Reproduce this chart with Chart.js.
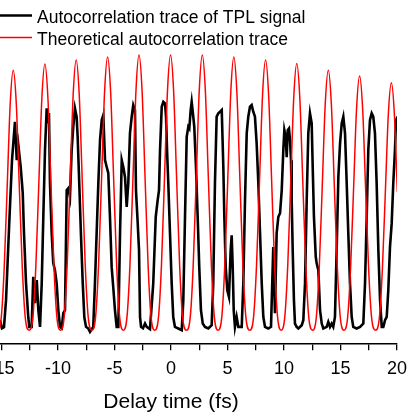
<!DOCTYPE html>
<html><head><meta charset="utf-8">
<script src="https://cdn.jsdelivr.net/npm/chart.js@4.4.1/dist/chart.umd.min.js"></script>
<style>
html,body{margin:0;padding:0;background:#fff;overflow:hidden;width:410px;height:415px;position:relative;}
#wrap{position:absolute;left:-85px;top:0;width:512px;height:415px;}
</style></head><body>
<div id="wrap"><canvas id="c" width="512" height="415"></canvas></div>
<script>
const seriesNames = ['Autocorrelation trace of TPL signal', 'Theoretical autocorrelation trace'];
const xTitle = 'Delay time (fs)';

// Measured TPL autocorrelation trace (delay in fs, normalized intensity)
const blackX = [-15.13,-14.96,-14.78,-14.60,-14.34,-14.07,-13.81,-13.65,-13.51,-13.30,
-13.12,-13.01,-12.83,-12.63,-12.54,-12.33,-12.19,-12.04,-11.88,-11.74,
-11.59,-11.44,-11.30,-11.15,-11.00,-10.91,-10.80,-10.71,-10.56,-10.42,
-10.27,-10.12,-9.97,-9.82,-9.67,-9.53,-9.38,-9.23,-9.09,-8.94,
-8.79,-8.65,-8.50,-8.35,-8.26,-8.12,-7.96,-7.81,-7.67,-7.52,
-7.32,-7.17,-6.88,-6.73,-6.58,-6.43,-6.28,-6.13,-5.99,-5.84,
-5.69,-5.55,-5.40,-5.25,-5.11,-4.96,-4.81,-4.66,-4.51,-4.36,
-4.22,-4.07,-3.92,-3.78,-3.63,-3.48,-3.34,-3.19,-3.10,-2.96,
-2.83,-2.74,-2.65,-2.48,-2.30,-2.15,-1.86,-1.57,-1.35,-1.18,
-1.06,-0.97,-0.82,-0.68,-0.53,-0.44,-0.35,-0.24,-0.09,0.06,
0.20,0.35,0.65,0.95,1.09,1.24,1.39,1.53,1.62,1.74,
1.83,1.97,2.06,2.21,2.36,2.50,2.65,2.81,3.01,3.30,
3.60,3.74,3.89,4.04,4.19,4.34,4.49,4.63,4.72,4.84,
4.98,5.13,5.28,5.37,5.46,5.55,5.66,5.81,5.96,6.26,
6.40,6.55,6.70,6.84,6.99,7.14,7.28,7.43,7.58,7.73,
7.88,8.03,8.17,8.32,8.61,8.85,9.05,9.20,9.35,9.50,
9.65,9.80,9.94,10.03,10.15,10.24,10.33,10.44,10.53,10.62,
10.68,10.77,10.88,10.97,11.12,11.27,11.57,11.71,11.86,12.01,
12.15,12.30,12.45,12.54,12.65,12.81,12.89,13.04,13.19,13.34,
13.48,13.78,13.92,14.07,14.22,14.36,14.51,14.66,14.81,14.96,
15.11,15.25,15.40,15.55,15.69,15.84,15.99,16.13,16.43,16.73,
17.02,17.17,17.32,17.46,17.61,17.76,17.90,18.05,18.20,18.35,
18.50,18.65,18.79,18.94,19.09,19.23,19.38,19.53,19.67,19.82,
19.91,20.06];
const blackY = [0.036,0.007,0.011,0.109,0.364,0.618,0.757,0.618,0.673,0.593,
0.498,0.353,0.171,0.047,0.012,0.012,0.194,0.098,0.182,0.073,
0.012,0.171,0.411,0.655,0.806,0.753,0.789,0.535,0.353,0.244,
0.218,0.171,0.073,0.012,0.007,0.062,0.073,0.509,0.516,0.484,
0.655,0.738,0.806,0.775,0.702,0.535,0.338,0.171,0.047,0.012,
0.006,-0.006,0.012,0.171,0.353,0.535,0.691,0.764,0.782,0.618,
0.593,0.571,0.411,0.229,0.156,0.073,0.012,0.012,0.353,0.618,
0.593,0.556,0.448,0.535,0.716,0.775,0.818,0.800,0.509,0.400,
0.291,0.047,0.012,0.007,0.024,0.012,0.004,0.171,0.412,0.473,
0.509,0.655,0.812,0.830,0.824,0.776,0.655,0.535,0.353,0.171,
0.047,0.012,0.006,0.000,0.109,0.412,0.703,0.739,0.733,0.800,
0.830,0.776,0.739,0.594,0.412,0.230,0.073,0.024,0.012,0.006,
0.018,0.171,0.535,0.776,0.788,0.794,0.800,0.594,0.412,0.230,
0.145,0.121,0.291,0.345,0.230,0.073,0.012,0.048,0.012,0.012,
0.171,0.473,0.715,0.776,0.812,0.818,0.794,0.776,0.679,0.533,
0.352,0.170,0.048,0.012,0.006,0.012,0.302,0.062,0.353,0.412,
0.425,0.509,0.655,0.727,0.702,0.629,0.727,0.733,0.691,0.618,
0.473,0.291,0.109,0.024,0.012,0.006,0.018,0.036,0.170,0.473,
0.715,0.788,0.752,0.594,0.412,0.267,0.243,0.218,0.073,0.024,
0.006,0.012,0.030,0.012,0.024,0.012,0.048,0.291,0.557,0.679,
0.752,0.776,0.715,0.533,0.352,0.170,0.048,0.012,0.006,0.012,
0.024,0.170,0.412,0.655,0.764,0.788,0.776,0.715,0.533,0.291,
0.109,0.012,0.012,0.036,0.048,0.145,0.303,0.388,0.533,0.655,
0.764,0.776];

// Theoretical autocorrelation trace
const redX = [-18.14,
-17.81,-17.55,-17.28,-17.02,-16.75,-16.48,-16.22,-15.95,-15.69,-15.36,
-15.02,-14.76,-14.49,-14.23,-13.96,-13.69,-13.43,-13.16,-12.90,-12.56,
-12.22,-11.96,-11.69,-11.43,-11.16,-10.89,-10.63,-10.36,-10.10,-9.78,
-9.45,-9.19,-8.92,-8.66,-8.39,-8.12,-7.86,-7.59,-7.33,-7.00,
-6.67,-6.41,-6.14,-5.88,-5.61,-5.34,-5.08,-4.81,-4.55,-4.22,
-3.89,-3.63,-3.36,-3.10,-2.83,-2.56,-2.30,-2.03,-1.77,-1.44,
-1.10,-0.84,-0.57,-0.31,-0.04,0.23,0.49,0.76,1.02,1.37,
1.71,1.97,2.24,2.50,2.77,3.04,3.30,3.57,3.83,4.17,
4.50,4.76,5.03,5.29,5.56,5.83,6.09,6.36,6.62,6.97,
7.31,7.57,7.84,8.10,8.37,8.64,8.90,9.17,9.43,9.75,
10.07,10.33,10.60,10.86,11.13,11.40,11.66,11.93,12.19,12.53,
12.86,13.12,13.39,13.65,13.92,14.19,14.45,14.72,14.98,15.31,
15.63,15.89,16.16,16.42,16.69,16.96,17.22,17.49,17.75,18.10,
18.44,18.70,18.97,19.23,19.50,19.77,20.03,20.30,20.56];
const redY = [0,
0.046,0.221,0.515,0.800,0.920,0.800,0.515,0.221,0.046,0,
0.047,0.227,0.529,0.822,0.945,0.822,0.529,0.227,0.047,0,
0.048,0.232,0.542,0.841,0.967,0.841,0.542,0.232,0.048,0,
0.049,0.236,0.550,0.854,0.982,0.854,0.550,0.236,0.049,0,
0.050,0.238,0.556,0.864,0.993,0.864,0.556,0.238,0.050,0,
0.050,0.240,0.560,0.870,1.000,0.870,0.560,0.240,0.050,0,
0.050,0.240,0.560,0.870,1.000,0.870,0.560,0.240,0.050,0,
0.050,0.240,0.560,0.870,1.000,0.870,0.560,0.240,0.050,0,
0.050,0.238,0.556,0.864,0.993,0.864,0.556,0.238,0.050,0,
0.049,0.236,0.550,0.854,0.982,0.854,0.550,0.236,0.049,0,
0.048,0.233,0.543,0.843,0.969,0.843,0.543,0.233,0.048,0,
0.047,0.227,0.529,0.822,0.945,0.822,0.529,0.227,0.047,0,
0.046,0.222,0.517,0.804,0.924,0.804,0.517,0.222,0.046,0,
0.045,0.216,0.503,0.782,0.899,0.782,0.503,0.216,0.045];

const FONT = '"Liberation Sans", Arial, Helvetica, sans-serif';
const SHIFT = 85; // canvas px hidden left of the window

const legendPlugin = {
  id: 'insideLegend',
  afterDraw(chart) {
    const ctx = chart.ctx;
    ctx.save();
    ctx.font = '17.5px ' + FONT;
    ctx.fillStyle = '#000';
    ctx.textBaseline = 'alphabetic';
    ctx.lineCap = 'butt';
    ctx.strokeStyle = '#000'; ctx.lineWidth = 2.6;
    ctx.beginPath(); ctx.moveTo(SHIFT - 5, 15.5); ctx.lineTo(SHIFT + 32, 15.5); ctx.stroke();
    ctx.fillText(seriesNames[0], SHIFT + 37, 23);
    ctx.strokeStyle = '#ff0000'; ctx.lineWidth = 1.4;
    ctx.beginPath(); ctx.moveTo(SHIFT - 5, 37.5); ctx.lineTo(SHIFT + 32, 37.5); ctx.stroke();
    ctx.fillText(seriesNames[1], SHIFT + 37, 44.5);
    ctx.restore();
  }
};

new Chart(document.getElementById('c'), {
  type: 'line',
  data: {
    datasets: [
      { label: seriesNames[0], data: blackX.map((x, i) => ({ x: x, y: blackY[i] })),
        borderColor: '#000', borderWidth: 2.6, pointRadius: 0, tension: 0, order: 2 },
      { label: seriesNames[1], data: redX.map((x, i) => ({ x: x, y: redY[i] })),
        borderColor: '#ff0000', borderWidth: 1.5, pointRadius: 0, cubicInterpolationMode: 'monotone', order: 1 }
    ]
  },
  options: {
    responsive: false, animation: false, devicePixelRatio: 1,
    layout: { padding: { left: 30, right: 30, top: 0, bottom: 0 } },
    plugins: { legend: { display: false }, tooltip: { enabled: false } },
    scales: {
      x: {
        type: 'linear', min: -20, max: 20,
        ticks: { stepSize: 2.5, autoSkip: false, maxRotation: 0, padding: 8, color: '#000',
          font: { family: FONT, size: 18 },
          callback: (v) => (Math.abs(v % 5) < 1e-9 ? String(v) : '') },
        grid: { display: true, drawOnChartArea: false, drawTicks: true, tickLength: 6, color: '#000', lineWidth: 1.3 },
        border: { display: true, color: '#000', width: 1.6 },
        title: { display: true, text: xTitle, color: '#000', font: { family: FONT, size: 21 }, padding: { top: 2, bottom: 0 } }
      },
      y: { display: false, min: -0.051, max: 1.2 }
    }
  },
  plugins: [legendPlugin]
});
</script></body></html>
